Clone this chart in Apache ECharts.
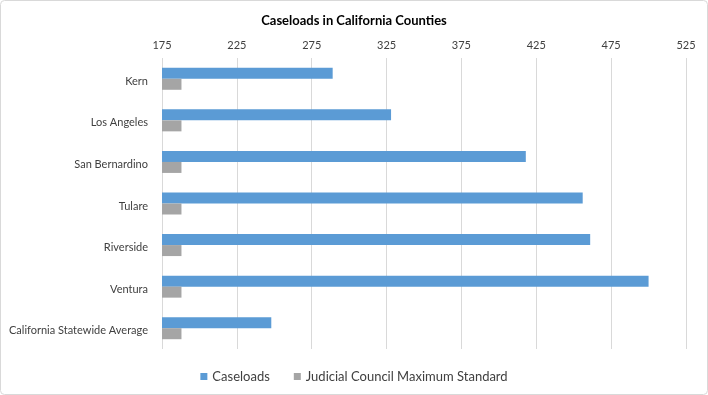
<!DOCTYPE html>
<html>
<head>
<meta charset="utf-8">
<script src="https://cdn.jsdelivr.net/npm/echarts@6/dist/echarts.min.js"></script>
<style>
html,body{margin:0;padding:0;background:#fff;}
#chart{width:708px;height:395px;}
</style>
</head>
<body>
<div id="chart"></div>
<script>
const categories = ["Kern", "Los Angeles", "San Bernardino", "Tulare", "Riverside", "Ventura", "California Statewide Average"];
const caseloads = [289, 328, 418, 456, 461, 500, 248];
const standard = [188, 188, 188, 188, 188, 188, 188];
const seriesNames = ["Caseloads", "Judicial Council Maximum Standard"];
const tickMin = 175, tickMax = 525, tickStep = 50;

const font = "Lato, 'Open Sans', sans-serif";
const chart = echarts.init(document.getElementById('chart'), null, {renderer: 'canvas'});
chart.setOption({
  animation: false,
  textStyle: {fontFamily: font},
  graphic: [{
    type: 'rect', shape: {x: 0.5, y: 0.5, width: 707, height: 394, r: 4},
    style: {fill: 'none', stroke: '#d9d9d9', lineWidth: 1}, silent: true
  }],
  title: {
    text: 'Caseloads in California Counties', left: 'center', top: 9,
    textStyle: {fontFamily: font, fontSize: 13, fontWeight: 'bold', color: '#000'}
  },
  legend: {
    data: seriesNames, bottom: 7, left: 'center', itemWidth: 7, itemHeight: 7, itemGap: 24,
    icon: 'rect',
    textStyle: {fontFamily: font, fontSize: 13, color: '#404040'}
  },
  grid: {left: 162, right: 22, top: 58, bottom: 46, containLabel: false},
  xAxis: {
    type: 'value', position: 'top', min: tickMin, max: tickMax, interval: tickStep,
    axisLine: {show: false}, axisTick: {show: false},
    axisLabel: {fontFamily: font, fontSize: 11, color: '#404040', margin: 7},
    splitLine: {show: true, lineStyle: {color: '#d9d9d9', width: 1}}
  },
  yAxis: {
    type: 'category', data: categories, inverse: true,
    axisLine: {show: false}, axisTick: {show: false},
    axisLabel: {fontFamily: font, fontSize: 11, color: '#404040', margin: 14,
      verticalAlign: 'top', padding: [-3, 0, 0, 0]}
  },
  series: [
    {name: seriesNames[0], type: 'bar', data: caseloads, barWidth: 11, barGap: '0%',
     itemStyle: {color: '#5B9BD5'}},
    {name: seriesNames[1], type: 'bar', data: standard, barWidth: 11,
     itemStyle: {color: '#A5A5A5'}}
  ]
});
</script>
</body>
</html>
